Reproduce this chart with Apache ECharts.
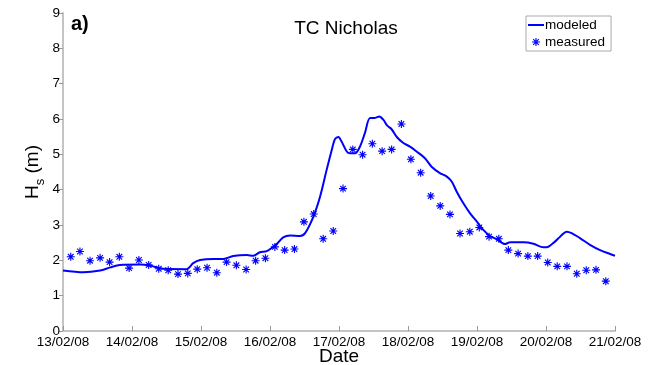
<!DOCTYPE html>
<html><head><meta charset="utf-8">
<script src="https://cdn.jsdelivr.net/npm/echarts@6/dist/echarts.min.js"></script>
<style>html,body{margin:0;padding:0;background:#fff}#c{width:654px;height:365px}</style>
</head><body><div id="c"></div>
<script>
// x values are hours since 13/02/08 00:00
var dateLabels = ['13/02/08','14/02/08','15/02/08','16/02/08','17/02/08','18/02/08','19/02/08','20/02/08','21/02/08'];
var modeledHours = [0,7.1,12.9,16.4,19.8,26.8,30.3,34.9,43.0,45.3,47.7,52.3,55.8,59.2,63.9,66.2,68.5,70.9,74.3,76.6,79.0,82.4,84.2,87.1,89.4,91.7,93.5,94.6,95.8,96.9,98.7,99.8,101.6,103.3,105.0,106.8,108.5,110.0,111.4,112.8,114.3,116.1,118.4,120.7,123.0,125.9,128.2,131.1,133.5,135.2,136.9,139.2,141.6,143.9,146.2,148.5,150.8,153.7,155.5,160.1,163.6,167.1,168.2,171.1,172.9,175.2,176.9,179.8,183.3,186.8,190.3,192];
var modeledHs = [1.71,1.66,1.71,1.80,1.87,1.88,1.85,1.76,1.75,1.92,2.01,2.04,2.04,2.12,2.15,2.13,2.23,2.26,2.46,2.65,2.70,2.69,2.77,3.24,3.80,4.56,5.13,5.43,5.49,5.36,5.08,5.03,5.03,5.22,5.60,6.03,6.03,6.07,5.98,5.81,5.71,5.49,5.32,5.22,5.08,4.89,4.65,4.47,4.37,4.23,3.95,3.62,3.33,3.10,2.86,2.69,2.60,2.46,2.51,2.51,2.47,2.37,2.37,2.53,2.67,2.81,2.77,2.63,2.44,2.29,2.18,2.13];
var measuredHours = [2.7,5.9,9.4,12.9,16.2,19.6,23.0,26.4,29.8,33.3,36.6,40.0,43.4,46.7,50.1,53.5,56.9,60.3,63.7,67.0,70.4,73.7,77.1,80.5,83.8,87.2,90.5,94.0,97.4,100.8,104.2,107.6,111.0,114.3,117.7,121.0,124.4,127.9,131.2,134.6,138.1,141.5,144.8,148.2,151.6,154.9,158.3,161.7,165.1,168.6,171.9,175.3,178.7,182.0,185.4,188.8];
var measuredHs = [2.10,2.25,1.99,2.07,1.95,2.10,1.78,2.01,1.87,1.76,1.72,1.61,1.63,1.75,1.79,1.65,1.95,1.86,1.74,1.99,2.06,2.38,2.29,2.32,3.09,3.31,2.61,2.83,4.03,5.14,4.99,5.30,5.09,5.14,5.86,4.86,4.48,3.82,3.54,3.30,2.76,2.81,2.93,2.67,2.61,2.29,2.19,2.12,2.12,1.94,1.83,1.83,1.62,1.72,1.73,1.41];
var yTicks = [0,1,2,3,4,5,6,7,8,9];

var star = 'path://M-0.7,-5L0.7,-5L0.7,5L-0.7,5Z M-5,-0.7L5,-0.7L5,0.7L-5,0.7Z M-3.0,-4.0L4.0,3.0L3.0,4.0L-4.0,-3.0Z M-4.0,3.0L3.0,-4.0L4.0,-3.0L-3.0,4.0Z';
var font = 'Liberation Sans, Arial, sans-serif';
var blue = '#0000ff';
var axisGrey = '#c4c4c4';

var chart = echarts.init(document.getElementById('c'), null, {renderer:'canvas'});
chart.setOption({
  animation:false,
  textStyle:{fontFamily:font},
  title:[
    {text:'TC Nicholas', left:341, top:14, textAlign:'center', textStyle:{fontSize:19, fontWeight:'normal', color:'#000', fontFamily:font}},
    {text:'a)', left:66, top:9, textStyle:{fontSize:20, fontWeight:'bold', color:'#000', fontFamily:font}}
  ],
  legend:{
    left:526, top:16, orient:'vertical', itemWidth:16, itemHeight:8, itemGap:3,
    padding:[2,6,2,2], borderColor:'#aaa', borderWidth:1, backgroundColor:'#fff',
    textStyle:{fontSize:13.5, color:'#000', fontFamily:font, padding:[0,0,0,-4]},
    data:[
      {name:'modeled', icon:'path://M0,0L16,0L16,2L0,2Z', itemStyle:{color:blue}},
      {name:'measured', icon:star, itemStyle:{color:blue}}
    ]
  },
  grid:{left:63, right:39, top:13, bottom:34, containLabel:false, outerBoundsMode:'none'},
  xAxis:{
    type:'value', min:0, max:192, interval:24,
    name:'Date', nameLocation:'middle', nameGap:16, nameMoveOverlap:false,
    nameTextStyle:{fontSize:19, color:'#000', fontFamily:font},
    axisLine:{onZero:false, lineStyle:{color:axisGrey, width:2}},
    axisTick:{inside:true, length:5, lineStyle:{color:'#999', width:1}},
    axisLabel:{fontSize:13.5, color:'#000', margin:4, formatter:function(v){return dateLabels[Math.round(v/24)];}},
    splitLine:{show:false}
  },
  yAxis:{
    type:'value', min:0, max:9, interval:1,
    name:'{a|H}{b|s}{a| (m)}', nameLocation:'middle', nameGap:16, nameRotate:90, nameMoveOverlap:false,
    nameTextStyle:{color:'#000', fontFamily:font, rich:{
      a:{fontSize:19, color:'#000', fontFamily:font, verticalAlign:'top', lineHeight:24},
      b:{fontSize:13, color:'#000', fontFamily:font, verticalAlign:'bottom', lineHeight:24}
    }},
    axisLine:{show:true, lineStyle:{color:axisGrey, width:2}},
    axisTick:{show:true, inside:false, length:4, lineStyle:{color:'#999', width:1}},
    axisLabel:{fontSize:13.5, color:'#000', margin:3, formatter:function(v){return yTicks.indexOf(v)>=0?String(v):'';}},
    splitLine:{show:false}
  },
  series:[
    {name:'modeled', type:'line', data:modeledHours.map(function(h,i){return [h, modeledHs[i]];}),
     symbol:'none', smooth:0.3, lineStyle:{color:blue, width:2}, itemStyle:{color:blue}},
    {name:'measured', type:'scatter', data:measuredHours.map(function(h,i){return [h, measuredHs[i]];}),
     symbol:star, symbolSize:8, itemStyle:{color:blue, opacity:1}}
  ]
});
</script></body></html>
